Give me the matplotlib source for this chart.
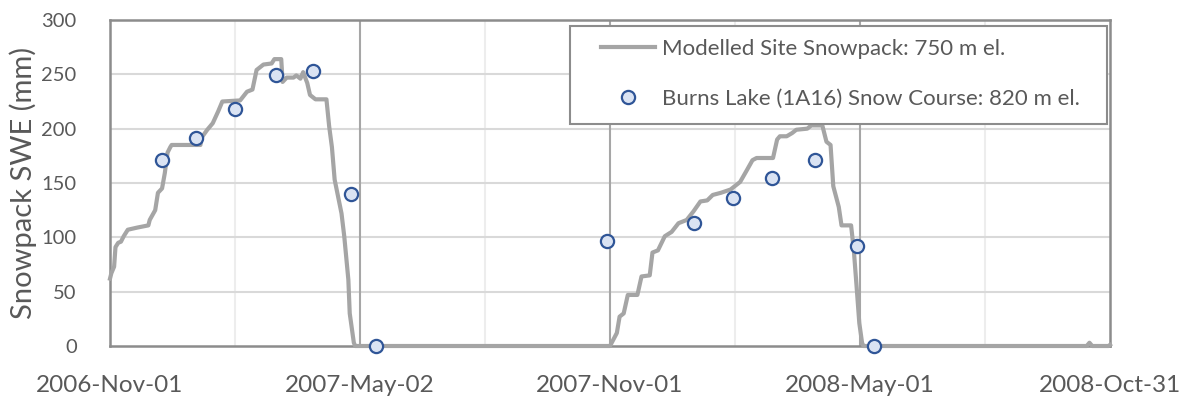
import matplotlib
matplotlib.use("Agg")
import matplotlib.pyplot as plt
import matplotlib.dates as mdates
from matplotlib.patches import Rectangle
import pandas as pd
import numpy as np

# Modelled site snowpack (SWE, mm)
model_dates = [
    "2006-11-01", "2006-11-02", "2006-11-04", "2006-11-05", "2006-11-07", "2006-11-09",
    "2006-11-11", "2006-11-14", "2006-11-21", "2006-11-29", "2006-11-30", "2006-12-04",
    "2006-12-06", "2006-12-09", "2006-12-11", "2006-12-13", "2006-12-15", "2006-12-16",
    "2007-01-06", "2007-01-07", "2007-01-11", "2007-01-15", "2007-01-19", "2007-01-22",
    "2007-02-04", "2007-02-09", "2007-02-13", "2007-02-16", "2007-02-21", "2007-02-27",
    "2007-03-01", "2007-03-06", "2007-03-07", "2007-03-10", "2007-03-15", "2007-03-17",
    "2007-03-20", "2007-03-22", "2007-03-25", "2007-03-27", "2007-03-31", "2007-04-08",
    "2007-04-10", "2007-04-12", "2007-04-14", "2007-04-19", "2007-04-21", "2007-04-24",
    "2007-04-25", "2007-04-28", "2007-04-29", "2007-11-01",
    "2007-11-06", "2007-11-08", "2007-11-11", "2007-11-14", "2007-11-21", "2007-11-24",
    "2007-11-30", "2007-12-02", "2007-12-06", "2007-12-11", "2007-12-16", "2007-12-21",
    "2007-12-27", "2008-01-01", "2008-01-06", "2008-01-11", "2008-01-15", "2008-01-21",
    "2008-01-28", "2008-02-04", "2008-02-09", "2008-02-13", "2008-02-16", "2008-02-28",
    "2008-03-02", "2008-03-04", "2008-03-09", "2008-03-13", "2008-03-16", "2008-03-24",
    "2008-03-27", "2008-04-04", "2008-04-07", "2008-04-10", "2008-04-12", "2008-04-16",
    "2008-04-18", "2008-04-25", "2008-04-27", "2008-04-29", "2008-05-01", "2008-05-03",
    "2008-05-04", "2008-10-14", "2008-10-16", "2008-10-18", "2008-10-30", "2008-10-31",
]
model_swe = [
    62, 67, 73, 91, 95, 96,
    101, 107, 109, 111, 116, 125,
    141, 145, 159, 178, 183, 185,
    185, 192, 199, 205, 216, 225,
    226, 234, 236, 254, 259, 260,
    264, 264, 243, 247, 247, 249,
    246, 252, 242, 231, 227, 227,
    202, 183, 153, 122, 101, 61,
    30, 3, 0, 0,
    12, 27, 30, 47, 47, 64,
    65, 86, 88, 101, 105, 113,
    116, 124, 133, 134, 139, 141,
    144, 151, 162, 171, 173, 173,
    190, 193, 193, 196, 199, 200,
    203, 203, 188, 185, 147, 128,
    111, 111, 88, 55, 21, 3,
    0, 0, 3, 0, 0, 1,
]

# Burns Lake (1A16) snow course observations
obs_dates = [
    "2006-12-09", "2007-01-03", "2007-01-31", "2007-03-02", "2007-03-29", "2007-04-26",
    "2007-05-14", "2007-10-30", "2008-01-01", "2008-01-30", "2008-02-27", "2008-03-30",
    "2008-04-29", "2008-05-12",
]
obs_swe = [171, 191, 218, 249, 253, 140, 0, 97, 113, 136, 155, 171, 92, 0]

x_tick_labels = ["2006-Nov-01", "2007-May-02", "2007-Nov-01", "2008-May-01", "2008-Oct-31"]
y_ticks = [0, 50, 100, 150, 200, 250, 300]
line_label = "Modelled Site Snowpack: 750 m el."
obs_label = "Burns Lake (1A16) Snow Course: 820 m el."
y_label = "Snowpack SWE (mm)"

FONT = ["Lato", "DejaVu Sans"]
plt.rcParams["font.family"] = FONT
TXT = "#595959"

md = pd.to_datetime(model_dates)
od = pd.to_datetime(obs_dates)

W, H = 1182, 400
fig = plt.figure(figsize=(W / 100, H / 100), dpi=100)
ax = fig.add_axes([110 / W, 1 - 346 / H, 1000 / W, 326 / H])

start = pd.Timestamp("2006-11-01")
end = pd.Timestamp("2008-10-31")
x0 = mdates.date2num(start)
x1 = mdates.date2num(end)
major = [x0 + i * 182.5 for i in range(5)]
minor = [x0 + i * 91.25 for i in range(9)]

ax.set_xlim(x0, x1)
ax.set_ylim(0, 300)

# gridlines
for m in minor:
    if m not in major:
        ax.axvline(m, color="#ededed", lw=1.5, zorder=0)
for y in y_ticks[1:-1]:
    ax.axhline(y, color="#d9d9d9", lw=1.5, zorder=0)
for m in major[1:-1]:
    ax.axvline(m, color="#a6a6a6", lw=1.5, zorder=1)

ax.plot(mdates.date2num(md), model_swe, color="#a5a5a5", lw=3.0,
        solid_joinstyle="round", zorder=3, clip_on=False, label=line_label)
ax.plot(mdates.date2num(od), obs_swe, linestyle="none", marker="o", ms=9.5,
        mfc="#dae3f3", mec="#2f5597", mew=1.6, zorder=4, clip_on=False,
        label=obs_label)

ax.set_xticks(major)
ax.set_xticklabels(x_tick_labels)
ax.set_yticks(y_ticks)
ax.tick_params(axis="both", length=0, colors=TXT)
ax.tick_params(axis="x", pad=21, labelsize=17.5)
ax.tick_params(axis="y", pad=24, labelsize=14.5)
for s in ax.spines.values():
    s.set_color("#8c8c8c")
    s.set_linewidth(1.8)

ax.set_ylabel(y_label, color=TXT, fontsize=21, labelpad=3.5)

# legend frame (drawn separately so that side padding can differ from top padding)
frame = Rectangle((570 / W, 1 - 124 / H), 537 / W, 98 / H,
                  transform=fig.transFigure, facecolor="white",
                  edgecolor="#8c8c8c", lw=1.5, zorder=5, clip_on=False)
ax.add_patch(frame)
leg = ax.legend(loc="upper left", bbox_to_anchor=(601 / W, 1 - 39 / H),
                bbox_transform=fig.transFigure, frameon=False,
                fontsize=16, labelcolor=TXT, labelspacing=1.35,
                handlelength=2.45, handletextpad=0.3, borderpad=0.0, borderaxespad=0.0)
leg.set_zorder(6)

fig.savefig("out.png", dpi=100)
